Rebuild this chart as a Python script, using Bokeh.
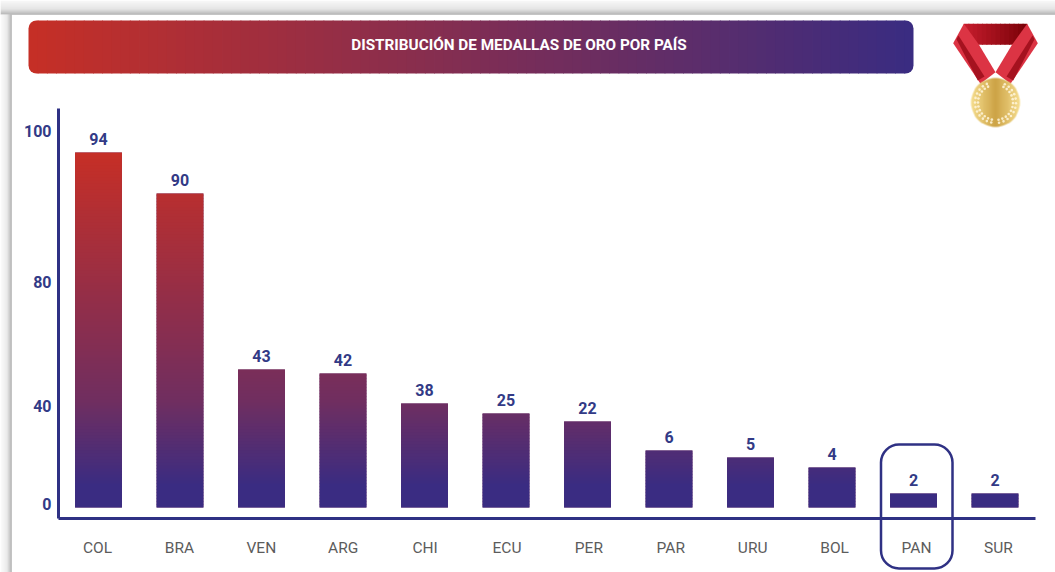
import numpy as np
from bokeh.core.properties import value
from bokeh.embed import file_html
from bokeh.models import BoxAnnotation, FixedTicker, LinearAxis, Range1d
from bokeh.plotting import figure
from bokeh.resources import INLINE

# ---- chart data ----
categories = ["COL", "BRA", "VEN", "ARG", "CHI", "ECU", "PER", "PAR", "URU", "BOL", "PAN", "SUR"]
medals = [94, 90, 43, 42, 38, 25, 22, 6, 5, 4, 2, 2]
# the source graphic's bars are not proportional to its labels: drawn heights as read
bar_heights = [355, 314, 138, 134, 104, 94, 86, 57, 50, 40, 14, 14]
tick_labels = ["0", "40", "80", "100"]
tick_heights = [4, 102, 226, 377]
title_text = "DISTRIBUCIÓN DE MEDALLAS DE ORO POR PAÍS"

# ---- style ----
NAVY = "#2f3184"
LABEL = "#323a86"
GREY = "#5c5c5c"
FONT = "Roboto"


def X(px):
    return (px - 98.0) / 81.5


def Y(py):
    return 507.0 - py


def lerp(stops, t):
    ts = [s[0] for s in stops]
    return tuple(int(round(np.interp(t, ts, [s[1][i] for s in stops]))) for i in range(3))


def hexc(c):
    return "#%02x%02x%02x" % c


def px_box(l, r, t, b, **kw):
    """Box given in page pixels, converted to the plot's data units."""
    kw.setdefault("line_alpha", 0)
    kw.setdefault("fill_alpha", 1)
    p.add_layout(BoxAnnotation(left=X(l), right=X(r), top=Y(t), bottom=Y(b), **kw))


bar_stops = [(152, (198, 47, 38)), (400, (112, 46, 96)), (485, (58, 44, 130))]

p = figure(width=1055, height=572, output_backend="svg", toolbar_location=None,
           x_range=Range1d(X(0), X(1055)), y_range=Range1d(Y(572), Y(0)),
           x_axis_type=None, y_axis_type=None,
           min_border_left=0, min_border_right=0, min_border_top=0, min_border_bottom=0,
           background_fill_color="white", border_fill_color="white", outline_line_color=None)
p.grid.visible = False

# ---- page-edge shadow ----
for py in range(14):
    s = int(np.interp(py, [0, 8, 13], [246, 226, 176]))
    px_box(0, 1055, py, py + 1.3, fill_color=hexc((s, s, s)), level="underlay")
for px in range(11):
    s = int(np.interp(px, [0, 6, 10], [250, 232, 180]))
    px_box(px, px + 1.3, 14, 572, fill_color=hexc((s, s, s)), level="underlay")

# ---- banner ----
steps = 96
edges = np.linspace(28, 913, steps + 1)
for i in range(steps):
    c = lerp([(28, (198, 47, 38)), (913, (57, 44, 129))], (edges[i] + edges[i + 1]) / 2)
    radius = 0
    if i == 0:
        radius = (8, 0, 0, 8)
    elif i == steps - 1:
        radius = (0, 8, 8, 0)
    right = edges[i + 1] + (0.8 if i < steps - 1 else 0)
    px_box(edges[i], right, 20, 73, fill_color=hexc(c), border_radius=radius)
p.text([X(518.5)], [Y(44)], text=[title_text], text_color="white", text_font=value(FONT),
       text_font_style="bold", text_font_size="15.3px", text_align="center", text_baseline="middle",
       level="overlay")

# ---- axes ----
left = LinearAxis(ticker=FixedTicker(ticks=tick_heights),
                  major_label_overrides={h: t for h, t in zip(tick_heights, tick_labels)},
                  fixed_location=X(58),
                  bounds=(Y(518), Y(108)), axis_line_color=NAVY, axis_line_width=3,
                  major_tick_line_color=None, minor_tick_line_color=None, major_label_standoff=1,
                  major_label_text_color=LABEL, major_label_text_font=FONT,
                  major_label_text_font_style="bold", major_label_text_font_size="16px")
p.add_layout(left, "left")
idx = list(range(len(categories)))
# the source's labels run on a slightly wider pitch than its bars
label_x = [round(X(97 + i * 81.9), 3) for i in idx]
bottom = LinearAxis(ticker=FixedTicker(ticks=label_x),
                    major_label_overrides={x: c for x, c in zip(label_x, categories)},
                    fixed_location=Y(518),
                    bounds=(X(58), X(1035)), axis_line_color=NAVY, axis_line_width=3,
                    major_tick_line_color=None, minor_tick_line_color=None, major_label_standoff=14,
                    major_label_text_color=GREY, major_label_text_font=FONT,
                    major_label_text_font_size="15.5px")
p.add_layout(bottom, "below")

# ---- bars: one solid bar each, with a page-wide vertical gradient laid over it ----
BAR_W = 0.575
p.vbar(x=idx, top=bar_heights, bottom=0, width=BAR_W, fill_color="#6a2e66", line_color=None)
ql, qr, qb, qt, qc = [], [], [], [], []
for i, h in zip(idx, bar_heights):
    for b in range(0, h, 3):
        t = min(b + 3.5, h)
        ql.append(i - BAR_W / 2); qr.append(i + BAR_W / 2); qb.append(b); qt.append(t)
        qc.append(hexc(lerp(bar_stops, 507 - (b + t) / 2)))
p.quad(left=ql, right=qr, bottom=qb, top=qt, fill_color=qc, line_color=None)

p.text(idx, bar_heights, text=[str(m) for m in medals], text_color=LABEL, text_font=value(FONT),
       text_font_style="bold", text_font_size="16px", text_align="center", text_baseline="middle",
       y_offset=-14)

# ---- PAN highlight ----
px_box(880.5, 952, 444, 568, fill_alpha=0, line_color=NAVY, line_width=2.5, line_alpha=1,
       border_radius=18, level="overlay")


# ---- medal ----
def mx(z):
    return X(800 + np.asarray(z, dtype=float) / 3)


def my(z):
    return Y(np.asarray(z, dtype=float) / 3)


def poly(zx, zy, color):
    p.patch(list(mx(zx)), list(my(zy)), fill_color=color, line_color=None)


for k in range(14):
    a, b = k / 14, (k + 1.2) / 14
    x0 = 490 + 190 * a
    x1 = 490 + 190 * min(b, 1)
    c = lerp([(0, (196, 28, 44)), (1, (118, 0, 6))], a)
    poly([x0, x1, x1, x0], [70, 70, 133, 133], hexc(c))
poly([490, 458, 540, 585, 535], [70, 128, 250, 215, 132], "#dc3444")
poly([680, 712, 630, 585, 635], [70, 128, 250, 215, 132], "#dc3444")
poly([474, 468, 532, 552], [105, 116, 240, 228], "#a5121f")
poly([696, 702, 638, 618], [105, 116, 240, 228], "#a5121f")

n = 56
yy, xx = np.mgrid[0:n, 0:n]
cx = (xx + 0.5 - n / 2) / (n / 2)
cy = (yy + 0.5 - n / 2) / (n / 2)
rr = np.sqrt(cx ** 2 + cy ** 2)
gold_t = np.abs(cx)
img = np.zeros((n, n, 4), dtype=np.uint8)
img[..., 0] = np.clip(205 + 42 * gold_t, 0, 255)
img[..., 1] = np.clip(163 + 60 * gold_t, 0, 255)
img[..., 2] = np.clip(70 + 75 * gold_t, 0, 255)
img[..., 3] = np.clip((1 - rr) * n / 2 * 255, 0, 255)
view = img.view(dtype=np.uint32).reshape(n, n)
p.image_rgba(image=[view], x=[X(970)], y=[Y(127)], dw=[X(1020) - X(970)], dh=[50])

ang = np.radians(np.arange(-80, 262, 13))
ang = ang[(ang < np.radians(68)) | (ang > np.radians(112))]
for ring, sz in [(17.5, 2.6), (20.5, 2.6)]:
    p.scatter(X(995) + ring * np.cos(ang) / 81.5, Y(102) + ring * np.sin(ang), size=sz, marker="circle",
              fill_color="#fff6dc", fill_alpha=0.85, line_color=None)

open("out.html", "w").write(file_html(p, INLINE))
